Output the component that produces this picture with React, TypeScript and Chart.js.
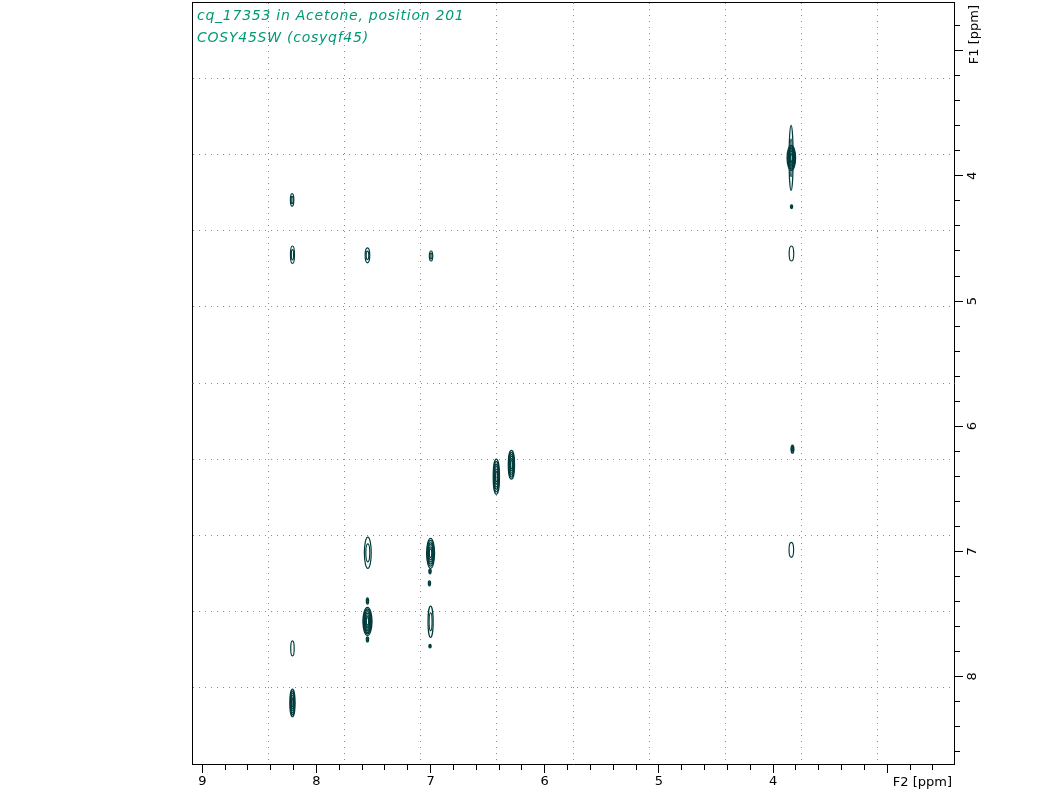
import React, { useEffect, useRef } from 'react';
import { Chart, registerables } from 'chart.js';

Chart.register(...registerables);

// ---- axis ranges (ppm) ----
const F2_LEFT = 9.09;
const F2_RIGHT = 2.415;
const F1_TOP = 2.61;
const F1_BOTTOM = 8.7;

// ---- tick values (ppm) ----
const f2Ticks = [9.0, 8.8, 8.6, 8.4, 8.2, 8.0, 7.8, 7.6, 7.4, 7.2, 7.0, 6.8, 6.6, 6.4, 6.2, 6.0, 5.8, 5.6, 5.4, 5.2, 5.0, 4.8, 4.6, 4.4, 4.2, 4.0, 3.8, 3.6, 3.4, 3.2, 3.0, 2.8, 2.6];
const f1Ticks = [2.8, 3.0, 3.2, 3.4, 3.6, 3.8, 4.0, 4.2, 4.4, 4.6, 4.8, 5.0, 5.2, 5.4, 5.6, 5.8, 6.0, 6.2, 6.4, 6.6, 6.8, 7.0, 7.2, 7.4, 7.6, 7.8, 8.0, 8.2, 8.4, 8.6];
const f2Labels = ['9', '8', '7', '6', '5', '4'];
const f1Labels = ['4', '5', '6', '7', '8'];
const gridDivisions = [1, 2, 3, 4, 5, 6, 7, 8, 9];

// ---- texts ----
const titleLines = ['cq_17353 in Acetone, position 201', 'COSY45SW (cosyqf45)'];
const f2AxisTitle = 'F2 [ppm]';
const f1AxisTitle = 'F1 [ppm]';

// ---- cross peaks (ppm) ----
const peakF2 = [8.213, 8.21, 7.553, 6.996, 3.842, 3.84, 3.838, 3.839, 3.83, 3.84, 6.424, 6.292, 7.55, 7.0, 7.005, 7.01, 7.553, 7.553, 7.553, 7.0, 7.005, 8.21, 8.21];
const peakF1 = [4.192, 4.63, 4.635, 4.64, 3.856, 3.856, 4.246, 4.62, 6.184, 6.988, 6.404, 6.308, 7.012, 7.016, 7.16, 7.256, 7.56, 7.398, 7.704, 7.564, 7.758, 7.776, 8.212];
const peakWidth = [0.03, 0.035, 0.04, 0.03, 0.035, 0.075, 0.02, 0.04, 0.025, 0.04, 0.055, 0.055, 0.06, 0.07, 0.02, 0.02, 0.08, 0.02, 0.02, 0.045, 0.02, 0.03, 0.045];
const peakHeight = [0.1, 0.14, 0.12, 0.08, 0.52, 0.2, 0.03, 0.12, 0.065, 0.12, 0.28, 0.23, 0.25, 0.24, 0.04, 0.04, 0.225, 0.05, 0.04, 0.25, 0.03, 0.12, 0.22];
const peakLevels = [2, 2, 2, 2, 2, 7, 2, 1, 3, 1, 6, 6, 2, 6, 2, 2, 8, 2, 2, 2, 2, 1, 6];

const CONTOUR_COLOR = '#003c3c';
const TITLE_COLOR = '#009a76';
const GRID_COLOR = '#8c8c8c';
const FONT = '"DejaVu Sans", sans-serif';

const contourPlugin = {
  id: 'contours',
  afterDatasetsDraw(chart: any) {
    const meta = chart.getDatasetMeta(0);
    const xs = chart.scales.x;
    const ys = chart.scales.y;
    const area = chart.chartArea;
    const ctx = chart.ctx;
    ctx.save();
    ctx.beginPath();
    ctx.rect(area.left, area.top, area.right - area.left, area.bottom - area.top);
    ctx.clip();
    ctx.strokeStyle = CONTOUR_COLOR;
    ctx.lineWidth = 1.2;
    meta.data.forEach((pt: any, i: number) => {
      const rx = Math.abs(xs.getPixelForValue(peakF2[i] + peakWidth[i] / 2) - pt.x);
      const ry = Math.abs(ys.getPixelForValue(peakF1[i] + peakHeight[i] / 2) - pt.y);
      const n = peakLevels[i];
      for (let k = 0; k < n; k++) {
        const f = 1 - (0.85 * k) / n;
        ctx.beginPath();
        ctx.ellipse(pt.x, pt.y, Math.max(rx * f, 0.6), Math.max(ry * f, 0.6), 0, 0, Math.PI * 2);
        ctx.stroke();
      }
    });
    ctx.restore();
  },
};

const textPlugin = {
  id: 'texts',
  afterDraw(chart: any) {
    const ctx = chart.ctx;
    const area = chart.chartArea;
    ctx.save();
    // title
    ctx.fillStyle = TITLE_COLOR;
    ctx.font = `oblique 14px ${FONT}`;
    ctx.textAlign = 'left';
    ctx.textBaseline = 'alphabetic';
    (ctx as any).letterSpacing = '0.75px';
    ctx.fillText(titleLines[0], area.left + 5, area.top + 17.5);
    ctx.fillText(titleLines[1], area.left + 5, area.top + 40);
    (ctx as any).letterSpacing = '0px';
    // axis titles
    ctx.fillStyle = '#000';
    ctx.font = `13px ${FONT}`;
    ctx.textAlign = 'right';
    ctx.fillText(f2AxisTitle, area.right - 2, area.bottom + 22);
    ctx.translate(area.right + 23.5, area.top + 3);
    ctx.rotate(-Math.PI / 2);
    ctx.textAlign = 'right';
    ctx.fillText(f1AxisTitle, 0, 0);
    ctx.restore();
  },
};

const isMajor = (v: number) => Math.abs(v - Math.round(v)) < 1e-6;

export default function App() {
  const canvasRef = useRef<HTMLCanvasElement | null>(null);

  useEffect(() => {
    const canvas = canvasRef.current;
    if (!canvas) return;
    const chart = new Chart(canvas, {
      type: 'scatter',
      data: {
        datasets: [
          {
            data: peakF2.map((x, i) => ({ x, y: peakF1[i] })),
            pointRadius: 0,
            pointHoverRadius: 0,
            borderColor: CONTOUR_COLOR,
            backgroundColor: CONTOUR_COLOR,
          },
        ],
      },
      options: {
        responsive: false,
        animation: false,
        events: [],
        layout: { padding: { left: 192, top: 2, right: 0, bottom: 0 } },
        plugins: {
          legend: { display: false },
          tooltip: { enabled: false },
          title: { display: false },
        },
        scales: {
          x: {
            type: 'linear',
            position: 'bottom',
            reverse: true,
            min: F2_RIGHT,
            max: F2_LEFT,
            afterBuildTicks: (s: any) => {
              s.ticks = f2Ticks.map((v) => ({ value: v }));
            },
            afterFit: (s: any) => {
              s.height = 29;
              s.paddingLeft = 0;
              s.paddingRight = 0;
              s.paddingTop = 0;
              s.paddingBottom = 0;
            },
            grid: {
              drawOnChartArea: false,
              drawTicks: true,
              tickLength: 9,
              tickColor: '#000',
              tickWidth: 1,
              tickBorderDash: (c: any) => (c.tick && isMajor(c.tick.value) ? [] : [5, 20]),
            },
            border: { display: true, color: '#000', width: 1 },
            ticks: {
              autoSkip: false,
              maxRotation: 0,
              minRotation: 0,
              padding: 1,
              color: '#000',
              font: { family: FONT, size: 13 },
              callback: (v: any) => {
                const s = isMajor(v) ? String(Math.round(v)) : '';
                return f2Labels.includes(s) ? s : '';
              },
            },
          },
          y: {
            type: 'linear',
            position: 'right',
            reverse: true,
            min: F1_TOP,
            max: F1_BOTTOM,
            afterBuildTicks: (s: any) => {
              s.ticks = f1Ticks.map((v) => ({ value: v }));
            },
            afterFit: (s: any) => {
              s.width = 106;
              s.paddingLeft = 0;
              s.paddingRight = 0;
              s.paddingTop = 0;
              s.paddingBottom = 0;
            },
            grid: {
              drawOnChartArea: false,
              drawTicks: true,
              tickLength: 9,
              tickColor: '#000',
              tickWidth: 1,
              tickBorderDash: (c: any) => (c.tick && isMajor(c.tick.value) ? [] : [5, 20]),
            },
            border: { display: true, color: '#000', width: 1 },
            ticks: {
              autoSkip: false,
              minRotation: 90,
              maxRotation: 90,
              crossAlign: 'center',
              padding: 5,
              color: '#000',
              font: { family: FONT, size: 13 },
              callback: (v: any) => {
                const s = isMajor(v) ? String(Math.round(v)) : '';
                return f1Labels.includes(s) ? s : '';
              },
            },
          },
          gx: {
            type: 'linear',
            position: 'top',
            min: 0,
            max: 10,
            afterBuildTicks: (s: any) => {
              s.ticks = gridDivisions.map((v) => ({ value: v }));
            },
            afterFit: (s: any) => {
              s.height = 0;
              s.paddingLeft = 0;
              s.paddingRight = 0;
            },
            ticks: { display: false },
            grid: { drawTicks: false, color: GRID_COLOR, lineWidth: 1 },
            border: { display: true, color: '#000', width: 1, dash: [1, 5] },
          },
          gy: {
            type: 'linear',
            position: 'left',
            min: 0,
            max: 10,
            afterBuildTicks: (s: any) => {
              s.ticks = gridDivisions.map((v) => ({ value: v }));
            },
            afterFit: (s: any) => {
              s.width = 0;
              s.paddingTop = 0;
              s.paddingBottom = 0;
            },
            ticks: { display: false },
            grid: { drawTicks: false, color: GRID_COLOR, lineWidth: 1 },
            border: { display: true, color: '#000', width: 1, dash: [1, 5] },
          },
        },
      } as any,
      plugins: [contourPlugin, textPlugin],
    });
    return () => chart.destroy();
  }, []);

  return (
    <div style={{ position: 'fixed', left: 0, top: 0, width: 1060, height: 793, background: '#fff' }}>
      <canvas ref={canvasRef} width={1060} height={793} style={{ display: 'block', width: 1060, height: 793 }} />
    </div>
  );
}
